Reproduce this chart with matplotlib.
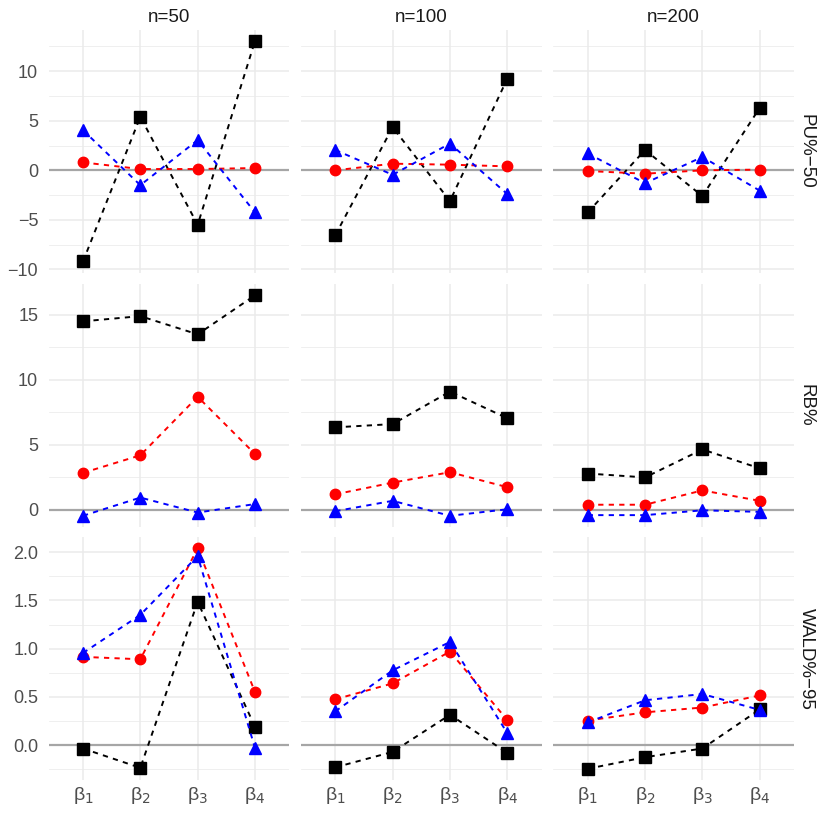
import numpy as np
import matplotlib.pyplot as plt
from matplotlib.ticker import MultipleLocator

plt.rcParams['font.family'] = ['Liberation Sans', 'DejaVu Sans']

# facet labels
params = ['β$_1$', 'β$_2$', 'β$_3$', 'β$_4$']
sizes = ['n=50', 'n=100', 'n=200']
measures = ['PU%\u221250', 'RB%', 'WALD%\u221295']

# PU%-50 : one list per sample size (n=50, n=100, n=200)
pu_black = [[-9.2, 5.4, -5.5, 13.05], [-6.55, 4.35, -3.1, 9.25], [-4.25, 2.05, -2.6, 6.3]]
pu_red = [[0.8, 0.13, 0.13, 0.23], [0.0, 0.67, 0.57, 0.4], [-0.07, -0.34, 0.0, 0.07]]
pu_blue = [[4.05, -1.5, 3.05, -4.25], [2.05, -0.45, 2.7, -2.4], [1.7, -1.3, 1.35, -2.05]]

# RB%
rb_black = [[14.5, 14.9, 13.5, 16.5], [6.35, 6.6, 9.1, 7.05], [2.8, 2.5, 4.65, 3.2]]
rb_red = [[2.85, 4.2, 8.7, 4.3], [1.2, 2.1, 2.9, 1.75], [0.4, 0.4, 1.5, 0.7]]
rb_blue = [[-0.45, 0.95, -0.2, 0.45], [-0.1, 0.7, -0.45, 0.05], [-0.4, -0.4, -0.03, -0.15]]

# WALD%-95
wald_black = [[-0.035, -0.235, 1.485, 0.19], [-0.23, -0.07, 0.315, -0.08], [-0.245, -0.125, -0.035, 0.37]]
wald_red = [[0.915, 0.89, 2.04, 0.55], [0.475, 0.64, 0.97, 0.26], [0.255, 0.34, 0.39, 0.515]]
wald_blue = [[0.955, 1.35, 1.96, -0.03], [0.35, 0.775, 1.07, 0.125], [0.235, 0.465, 0.53, 0.365]]

rows = [
    (pu_black, pu_red, pu_blue, 5),
    (rb_black, rb_red, rb_blue, 5),
    (wald_black, wald_red, wald_blue, 0.5),
]

W, H = 821, 817
fig = plt.figure(figsize=(W / 100, H / 100), dpi=100)

col_left = [48.6, 300.9, 553.3]
panel_w = 240.8
row_top = [30, 284.3, 537.3]
panel_h = 242.5

x = np.arange(len(params))
dash = (0, (2.7, 2.7))
txt_col = '#4D4D4D'

for r, (blk, red, blu, step) in enumerate(rows):
    allv = np.array(blk + red + blu).ravel()
    lo, hi = allv.min(), allv.max()
    pad = (hi - lo) * 0.05
    for c in range(3):
        ax = fig.add_axes([col_left[c] / W, 1 - (row_top[r] + panel_h) / H,
                           panel_w / W, panel_h / H])
        ax.set_ylim(lo - pad, hi + pad)
        ax.set_xlim(-0.6, 3.6)
        ax.yaxis.set_major_locator(MultipleLocator(step))
        ax.yaxis.set_minor_locator(MultipleLocator(step / 2))
        ax.set_xticks(x)
        ax.grid(which='major', color='#EBEBEB', lw=1.1, zorder=0)
        ax.grid(which='minor', axis='y', color='#EBEBEB', lw=0.55, zorder=0)
        ax.set_axisbelow(True)
        for s in ax.spines.values():
            s.set_visible(False)
        ax.tick_params(axis='y', which='both', length=0, labelsize=13, labelcolor=txt_col, pad=7.5)
        ax.tick_params(axis='x', which='both', length=0, labelcolor=txt_col, pad=4)
        ax.axhline(0, color='#A6A6A6', lw=1.6, zorder=1)

        ax.plot(x, blk[c], color='black', ls=dash, lw=1.4, marker='s', ms=8.5, zorder=3)
        ax.plot(x, red[c], color='red', ls=dash, lw=1.4, marker='o', ms=7.5, zorder=3)
        ax.plot(x, blu[c], color='blue', ls=dash, lw=1.4, marker='^', ms=8.5, zorder=3)

        if c == 0:
            if step < 1:
                ax.yaxis.set_major_formatter(lambda v, p: f'{v:.1f}'.replace('-', '\u2212'))
        else:
            ax.set_yticklabels([])
        if r == 2:
            ax.set_xticklabels(params, fontsize=14)
        else:
            ax.set_xticklabels([])

        if r == 0:
            ax.set_title(sizes[c], fontsize=13.5, color='#1A1A1A', pad=6)
        if c == 2:
            ax.text(1.015, 0.5, measures[r], transform=ax.transAxes, rotation=-90,
                    ha='left', va='center', fontsize=13.5, color='#1A1A1A')

fig.savefig('out.png', dpi=100)
